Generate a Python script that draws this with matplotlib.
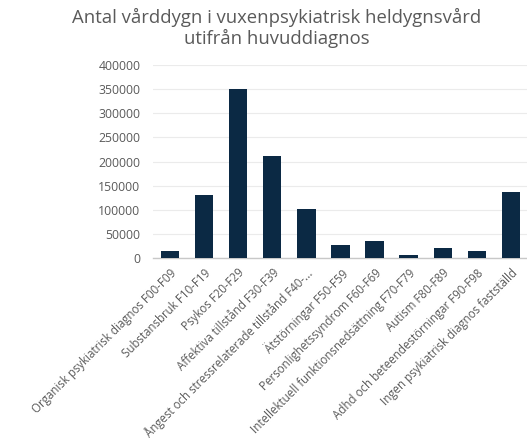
import matplotlib
matplotlib.use("Agg")
import matplotlib.pyplot as plt

categories = [
    "Organisk psykiatrisk diagnos F00-F09",
    "Substansbruk F10-F19",
    "Psykos F20-F29",
    "Affektiva tillstånd F30-F39",
    "Ångest och stressrelaterade tillstånd F40-...",
    "Ätstörningar F50-F59",
    "Personlighetssyndrom F60-F69",
    "Intellektuell funktionsnedsättning F70-F79",
    "Autism F80-F89",
    "Adhd och beteendestörningar F90-F98",
    "Ingen psykiatrisk diagnos fastställd",
]
values = [15200, 130800, 349600, 211100, 101700, 27000, 35300, 5600, 21600, 13900, 136400]
yticks = [0, 50000, 100000, 150000, 200000, 250000, 300000, 350000, 400000]

plt.rcParams['font.family'] = ['Open Sans', 'DejaVu Sans']

fig = plt.figure(figsize=(5.27, 4.46), dpi=100)
ax = fig.add_axes([0.290, 0.4215, 0.712, 0.4325])

x = list(range(len(categories)))
ax.bar(x, values, width=0.54, color='#0b2944', zorder=3)

ax.set_xlim(-0.5, len(categories) - 0.5)
ax.set_ylim(0, 400000)
ax.set_yticks(yticks)
ax.set_yticklabels([str(v) for v in yticks], fontsize=8.8, color='#5a5a5a')
ax.set_xticks(x)
ax.set_xticklabels(categories, rotation=45, ha='right', rotation_mode='anchor',
                   fontsize=8.3, color='#5a5a5a')
ax.tick_params(axis='y', length=0, pad=9)
ax.tick_params(axis='x', length=0, pad=6)

ax.grid(axis='y', color='#ebebeb', linewidth=0.8, zorder=0)
for side in ['top', 'right', 'left']:
    ax.spines[side].set_visible(False)
ax.spines['bottom'].set_color('#c8c8c8')
ax.spines['bottom'].set_linewidth(1.0)

fig.text(0.525, 0.982, "Antal vårddygn i vuxenpsykiatrisk heldygnsvård\nutifrån huvuddiagnos",
         ha='center', va='top', fontsize=13.3, color='#5a5a5a', linespacing=1.1)

fig.savefig("out.png", dpi=100)
